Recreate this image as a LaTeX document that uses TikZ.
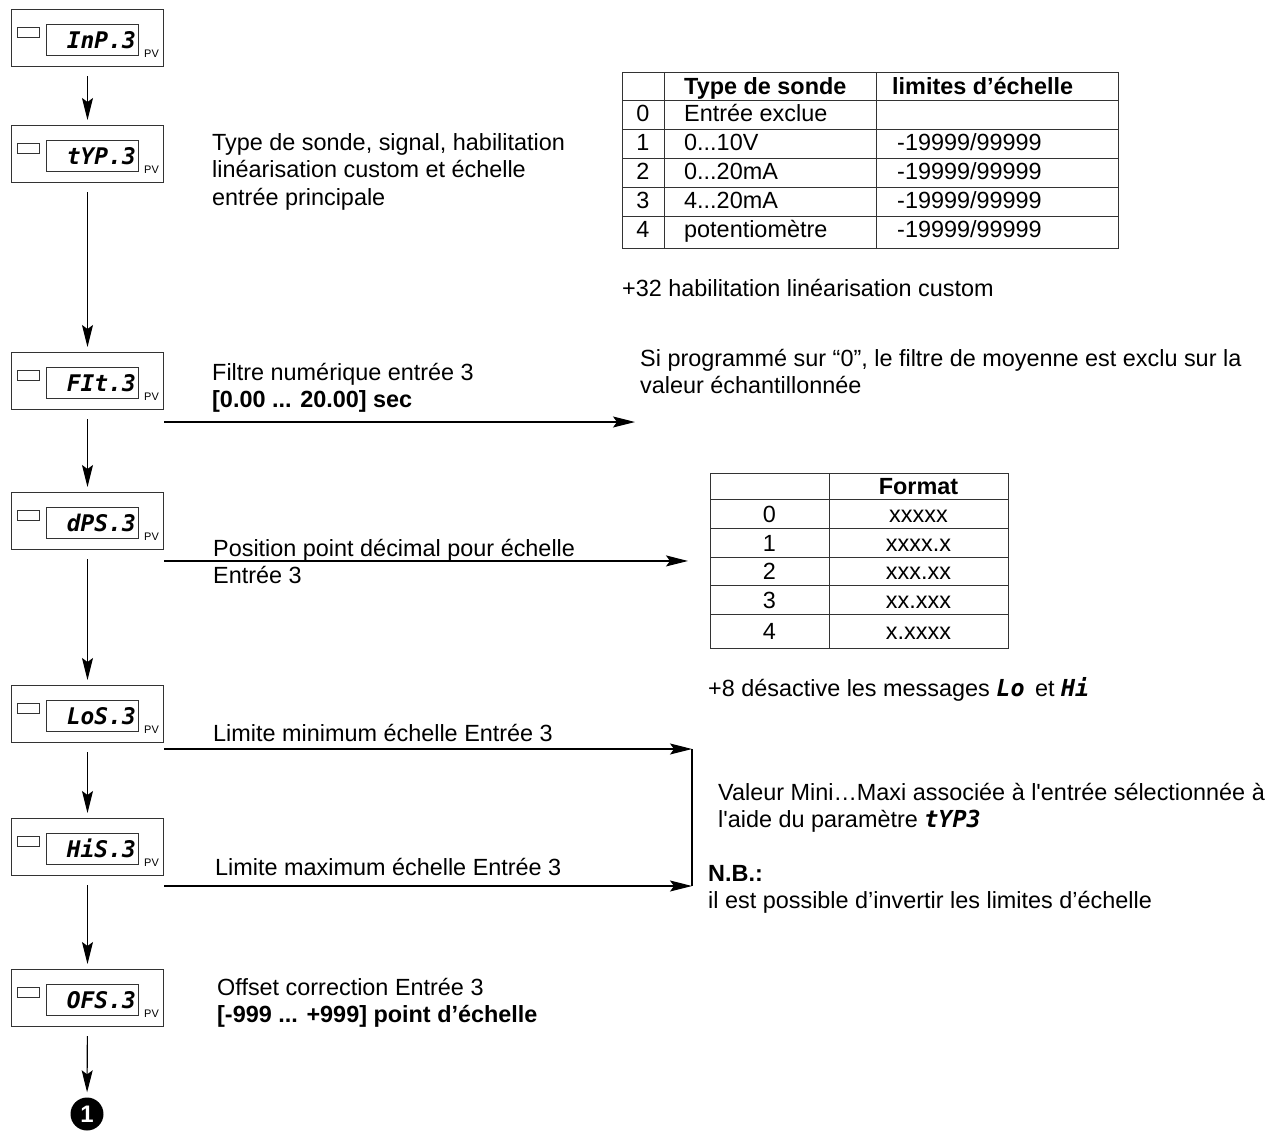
\documentclass[tikz,border=0pt]{standalone}
\usepackage{fontspec}
\setmainfont{Liberation Sans}
\newfontfamily\segfont{DejaVu Sans Mono}
\usetikzlibrary{arrows.meta}

\newcommand\body{\fontsize{23.5}{27.5}\selectfont}
\newcommand\seg[1]{{\segfont\bfseries\itshape #1}}
\newcommand\lines[1]{\begin{tabular}[t]{@{}l@{}}#1\end{tabular}}

% one display panel: name, top edge, reading
\newcommand\panel[3]{%
  \node[panelbox, anchor=north west] (#1) at (11,#2) {};
  \draw[lcd] ([shift={(6bp,-18bp)}]#1.north west) rectangle ++(22bp,-10bp);
  \draw[lcd] ([shift={(35bp,-15bp)}]#1.north west) rectangle ++(92bp,-31bp);
  \node[segtext, anchor=base east] (#1-val) at ([shift={(125bp,-39.5bp)}]#1.north west) {#3};
  \node[pvtext, anchor=base west] (#1-pv) at ([shift={(133bp,-48bp)}]#1.north west) {PV};
}

\begin{document}
\begin{tikzpicture}[x=1bp,y=-1bp,
    panelbox/.style={draw=black!80, line width=1bp, minimum width=152bp, minimum height=57bp, inner sep=0pt},
    lcd/.style={draw=black!80, line width=0.8bp},
    segtext/.style={inner sep=0pt, font=\segfont\bfseries\itshape\fontsize{23}{23}\selectfont},
    pvtext/.style={inner sep=0pt, font=\fontsize{11}{11}\selectfont},
    txt/.style={anchor=base west, inner sep=0pt, font=\body},
    flow/.style={-{Stealth[length=22bp,width=11bp,inset=4bp]}, line width=1.1bp},
    down/.style={flow, shorten <=9bp, shorten >=5bp},
    grid/.style={draw=black!80, line width=0.9bp}]

\useasboundingbox (0,0) rectangle (1273,1135);

% parameter panels
\panel{inp}{9}{InP.3}
\panel{typ}{125}{tYP.3}
\panel{fit}{352}{FIt.3}
\panel{dps}{492}{dPS.3}
\panel{los}{685}{LoS.3}
\panel{his}{818}{HiS.3}
\panel{ofs}{969}{OFS.3}
\node[circle, fill=black, text=white, inner sep=0pt, minimum size=33bp,
      font=\bfseries\fontsize{24}{24}\selectfont] (next) at (87,1114) {1};

% menu sequence
\foreach \a/\b in {inp/typ, typ/fit, fit/dps, dps/los, los/his, his/ofs, ofs/next}
  \draw[down] (\a) -- (\b);

% descriptions
\node[txt] (typ-desc) at (212,150.5) {\lines{Type de sonde, signal, habilitation\\linéarisation custom et échelle\\entrée principale}};
\node[txt] (fit-desc) at (212,380.5) {\lines{Filtre numérique entrée 3\\\textbf{[0.00 ... 20.00] sec}}};
\node[txt] (dps-desc) at (213,556.5) {\lines{Position point décimal pour échelle\\Entrée 3}};
\node[txt] (los-desc) at (213,741.5) {Limite minimum échelle Entrée 3};
\node[txt] (his-desc) at (215,875.5) {Limite maximum échelle Entrée 3};
\node[txt] (ofs-desc) at (217,995.5) {\lines{Offset correction Entrée 3\\\textbf{[-999 ... +999] point d’échelle}}};

% probe table
\node[grid, anchor=north west, minimum width=496bp, minimum height=176bp, inner sep=0pt] (probe) at (622,72) {};
\foreach \x in {664,876} \draw[grid] (\x,72) -- (\x,248);
\foreach \y in {100,129,158,187,216} \draw[grid] (622,\y) -- (1118,\y);
\node[txt, font=\body\bfseries] (probe-h1) at (684,94.5) {Type de sonde};
\node[txt, font=\body\bfseries] (probe-h2) at (892,94.5) {limites d’échelle};
\foreach \y/\n/\kind/\range in {121.5/0/{Entrée exclue}/{}, 150.5/1/{0...10V}/{-19999/99999},
    179.5/2/{0...20mA}/{-19999/99999}, 208.5/3/{4...20mA}/{-19999/99999},
    237.5/4/{potentiomètre}/{-19999/99999}} {
  \node[txt, anchor=base] (probe-n\n) at (643,\y) {\n};
  \node[txt] (probe-k\n) at (684,\y) {\kind};
  \node[txt] (probe-r\n) at (897,\y) {\range};
}
\node[txt] (custom) at (622,296.5) {+32 habilitation linéarisation custom};

% filter note
\draw[flow] ([yshift=-12bp]fit.south east) -- ++(471,0) coordinate (fit-end);
\node[txt] (fit-note) at (640,366.5) {\lines{Si programmé sur “0”, le filtre de moyenne est exclu sur la\\valeur échantillonnée}};

% decimal point table
\node[grid, anchor=north west, minimum width=298bp, minimum height=175bp, inner sep=0pt] (fmt) at (710,473) {};
\draw[grid] (829,473) -- (829,648);
\foreach \y in {499,528,557,585,614} \draw[grid] (710,\y) -- (1008,\y);
\node[txt, anchor=base, font=\body\bfseries] (fmt-h) at (918.5,494.5) {Format};
\foreach \y/\n/\f in {522/0/xxxxx, 551/1/xxxx.x, 579.5/2/xxx.xx, 608/3/xx.xxx, 639.5/4/x.xxxx} {
  \node[txt, anchor=base] (fmt-n\n) at (769.5,\y) {\n};
  \node[txt, anchor=base] (fmt-f\n) at (918.5,\y) {\f};
}
\draw[flow] (dps.south east |- fmt.west) -- ([xshift=-22bp]fmt.west);
\node[txt] (msg) at (708,696.5) {+8 désactive les messages \seg{Lo}\, et \seg{Hi}};

% scale limits
\draw[flow] ([yshift=-6bp]los.south east) -- ++(528,0) coordinate (lim-a);
\draw[flow] ([yshift=-10bp]his.south east) -- ++(528,0) coordinate (lim-b);
\draw[line width=1.1bp] (lim-a) -- (lim-b);
\node[txt] (lim-note) at (718,800.5) {\lines{Valeur Mini…Maxi associée à l\textquotesingle entrée sélectionnée à\\l\textquotesingle aide du paramètre \seg{tYP3}}};
\node[txt] (nb) at (708,881.5) {\lines{\textbf{N.B.:}\\il est possible d’invertir les limites d’échelle}};
\end{tikzpicture}
\end{document}
